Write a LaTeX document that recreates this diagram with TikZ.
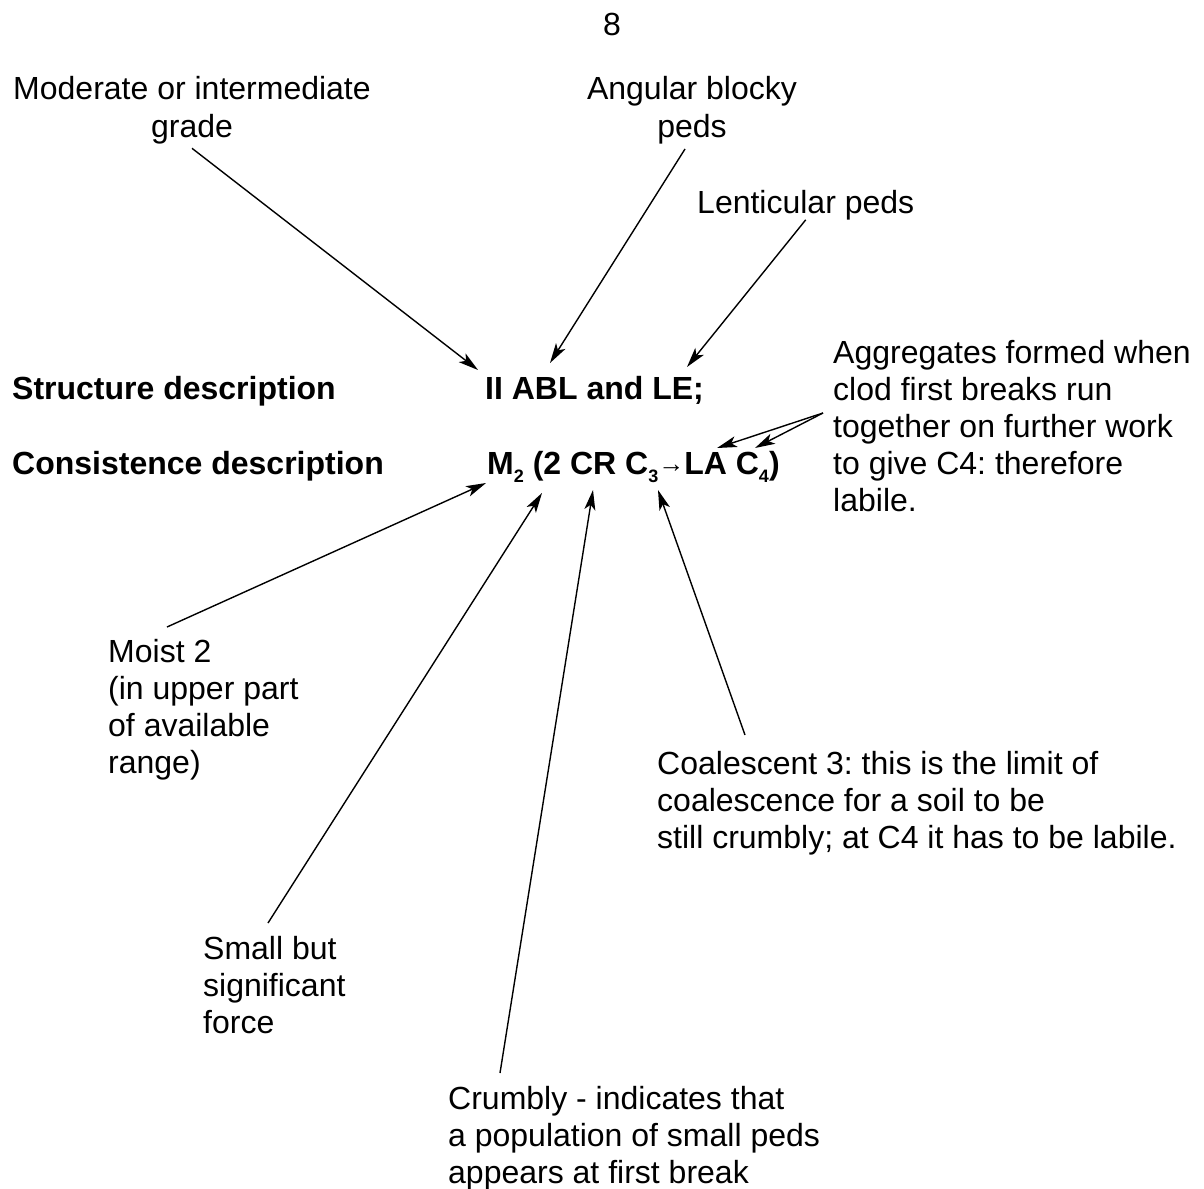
\documentclass[tikz,border=0pt]{standalone}
\usepackage{fontspec}
\setmainfont{Liberation Sans}
\usetikzlibrary{arrows.meta}
\newcommand{\sbs}[1]{\raisebox{-0.28em}{\fontsize{18}{18}\selectfont #1}}
\begin{document}
\frenchspacing
\begin{tikzpicture}[x=1pt,y=-1pt,
  txt/.style={inner sep=0pt, font=\fontsize{32}{37}\selectfont\frenchspacing},
  btxt/.style={inner sep=0pt, font=\fontsize{32}{37}\selectfont\bfseries\frenchspacing},
  arr/.style={line width=1.4pt, -{Stealth[length=20pt,width=11pt,inset=5pt]}}]
\useasboundingbox (0,0) rectangle (1204,1188);

% page number
\node[txt, anchor=base] (pg) at (612,36) {8};

% top labels
\node[txt, anchor=base] (mod) at (192,100) {\begin{tabular}[t]{@{}c@{}}Moderate or intermediate\\ grade\end{tabular}};
\node[txt, anchor=base] (ang) at (692,100) {\begin{tabular}[t]{@{}c@{}}Angular blocky\\ peds\end{tabular}};
\node[txt, anchor=base west] (len) at (697,213) {Lenticular peds};

% row headings
\node[btxt, anchor=base west] (sd) at (12,399) {Structure description};
\node[btxt, anchor=base west] (cd) at (12,474) {Consistence description};

% formulas
\node[btxt, anchor=base west] (cf) at (487,474) {M\sbs{2} (2 CR C\sbs{3}{\fontsize{26}{26}\selectfont\raisebox{0.05em}{→}}LA C\sbs{4})};
\node[btxt, anchor=base west] (sf) at (485,399) {II ABL and LE;};

% side and bottom labels
\node[txt, anchor=base west] (agg) at (833,363) {\begin{tabular}[t]{@{}l@{}}Aggregates formed when\\ clod first breaks run\\ together on further work\\ to give C4: therefore\\ labile.\end{tabular}};
\node[txt, anchor=base west] (moist) at (108,662) {\begin{tabular}[t]{@{}l@{}}Moist 2\\ (in upper part\\ of available\\ range)\end{tabular}};
\node[txt, anchor=base west] (coal) at (657,774) {\begin{tabular}[t]{@{}l@{}}Coalescent 3: this is the limit of\\ coalescence for a soil to be\\ still crumbly; at C4 it has to be labile.\end{tabular}};
\node[txt, anchor=base west] (small) at (203,959) {\begin{tabular}[t]{@{}l@{}}Small but\\ significant\\ force\end{tabular}};
\node[txt, anchor=base west] (crumb) at (448,1109) {\begin{tabular}[t]{@{}l@{}}Crumbly - indicates that\\ a population of small peds\\ appears at first break\end{tabular}};

% connector end points
\coordinate (tII) at (478,370);
\coordinate (tABL) at (550,363);
\coordinate (tLE) at (687,367);
\coordinate (tLA) at (717,448);
\coordinate (tC4) at (755,448);
\coordinate (tM) at (486,483);
\coordinate (tPar) at (542,493);
\coordinate (tCR) at (593,490);
\coordinate (tC3) at (658,490);
\coordinate (sAng) at (685,149);
\coordinate (sAgg) at (823,413);
\coordinate (sMoist) at (167,627);
\coordinate (sSmall) at (268,923);
\coordinate (sCrumb) at (500,1073);
\coordinate (sCoal) at (745,735);

% connectors
\draw[arr] (mod.south) -- (tII);
\draw[arr] (sAng) -- (tABL);
\draw[arr] (len.south) -- (tLE);
\draw[arr] (sAgg) -- (tLA);
\draw[arr] (sAgg) -- (tC4);
\draw[arr] (sMoist) -- (tM);
\draw[arr] (sSmall) -- (tPar);
\draw[arr] (sCrumb) -- (tCR);
\draw[arr] (sCoal) -- (tC3);
\end{tikzpicture}
\end{document}
